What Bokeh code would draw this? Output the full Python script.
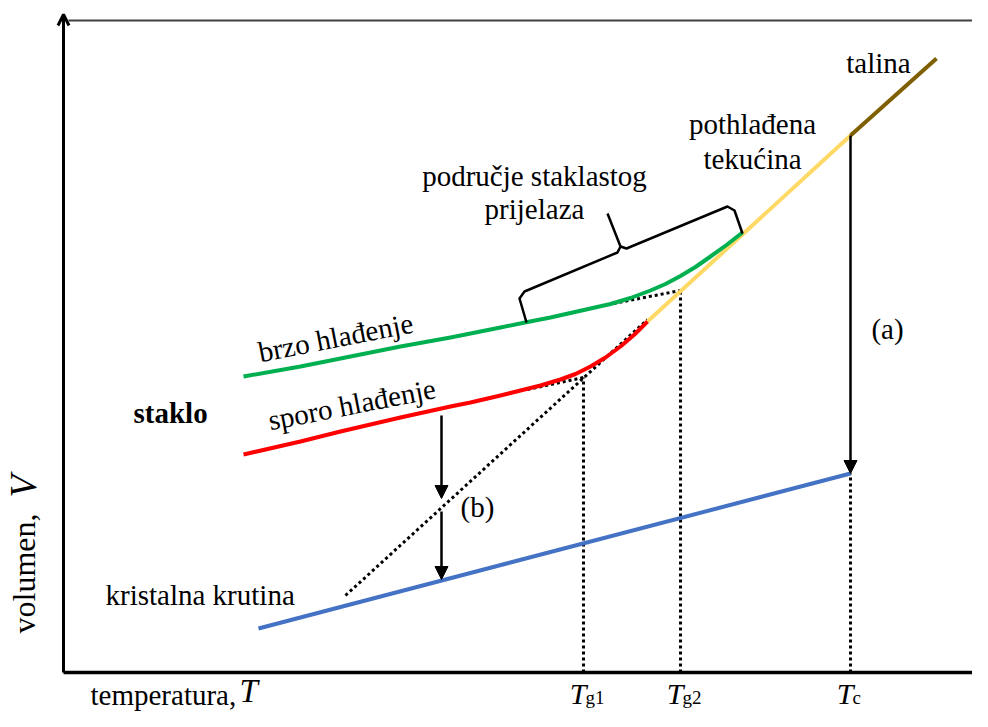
from bokeh.plotting import figure
from bokeh.models import Range1d, Arrow, NormalHead, OpenHead
from bokeh.embed import file_html
from bokeh.resources import INLINE
from bokeh.core.properties import value

# ---- diagram values (temperature T, volume V; origin at the axes corner) ----
fast_T = [180, 237, 287, 337, 387, 437, 464, 487, 507, 527, 547, 567, 587, 602, 617, 632, 647, 663, 679]
fast_V = [296, 306, 316, 326, 335, 345, 350.5, 355, 359.5, 364, 368.5, 374.5, 382, 388.5, 396.5, 405.5, 416, 427.5, 440]
slow_T = [180, 237, 277, 337, 387, 407, 437, 457, 477, 497, 512, 527, 542, 557, 571, 584]
slow_V = [218, 231, 241, 255, 266, 270, 277, 282, 287, 293, 298.5, 306, 315, 326, 338, 351]
supercooled_T = [584, 787]
supercooled_V = [351, 537]
melt_T = [787, 873]
melt_V = [537, 614]
crystal_T = [195, 787]
crystal_V = [44, 199]
extrap_T = [282, 584]
extrap_V = [77, 353]
fast_tan_T = [550, 617]
fast_tan_V = [369, 382]
slow_tan_T = [464, 520]
slow_tan_V = [283, 295]
tick_T = [520, 617, 787]
tick_V = [295, 382, 199]
tick_main = ["T", "T", "T"]
tick_sub = ["g1", "g2", "c"]
brace_left_T = [463, 456, 461, 554, 557, 544]
brace_left_V = [350, 374, 381, 420, 426, 459]
brace_right_T = [557, 563, 664, 671, 679]
brace_right_V = [426, 424, 466, 462, 439]
arrow_a = (787, 537, 787, 199)
arrow_b1 = (378, 257, 378, 174)
arrow_b2 = (378, 161, 378, 93)
axis_x_end = 925
axis_y_end = 658
top_line_V = 652

FONT = value("Liberation Serif")

p = figure(width=972, height=711, x_range=Range1d(-63, 909), y_range=Range1d(-39, 672),
           output_backend="svg", toolbar_location=None, min_border=0,
           x_axis_type=None, y_axis_type=None)
p.grid.visible = False
p.outline_line_color = None
p.background_fill_color = "white"

# frame lines
p.line([5, axis_x_end], [top_line_V, top_line_V], line_color="#404040", line_width=2)
p.line([0, axis_x_end], [0, 0], line_color="black", line_width=3.5)
p.add_layout(Arrow(end=OpenHead(size=11, line_width=3, line_color="black"),
                   x_start=0, y_start=0, x_end=0, y_end=axis_y_end,
                   line_width=3, line_color="black"))

# dotted guide lines
dot = dict(line_color="black", line_width=3, line_dash="3 3")
p.line(extrap_T, extrap_V, **dot)
p.line(fast_tan_T, fast_tan_V, **dot)
p.line(slow_tan_T, slow_tan_V, **dot)
for t, v in zip(tick_T, tick_V):
    p.line([t, t], [0, v], **dot)

# curves
p.line(crystal_T, crystal_V, line_color="#4472C4", line_width=4)
p.line(supercooled_T, supercooled_V, line_color="#FFD966", line_width=4)
p.line(melt_T, melt_V, line_color="#7F6000", line_width=4)
p.line(fast_T, fast_V, line_color="#00B050", line_width=4, line_join="round")
p.line(slow_T, slow_V, line_color="#FF0000", line_width=4, line_join="round")

# brace
p.line(brace_left_T, brace_left_V, line_color="black", line_width=2.5, line_join="round")
p.line(brace_right_T, brace_right_V, line_color="black", line_width=2.5, line_join="round")

# arrows
for a in (arrow_a, arrow_b1, arrow_b2):
    p.add_layout(Arrow(end=NormalHead(size=13, fill_color="black", line_color="black"),
                       x_start=a[0], y_start=a[1], x_end=a[2], y_end=a[3],
                       line_width=2.5, line_color="black"))

# texts
txt = dict(text_font=FONT, text_font_size="29px", text_color="black", text_baseline="alphabetic")
p.text(x=[815], y=[610], text=["talina"], text_align="center", **txt)
p.text(x=[689, 689], y=[549, 514], text=["pothlađena", "tekućina"], text_align="center", **txt)
p.text(x=[471, 471], y=[497, 464], text=["područje staklastog", "prijelaza"], text_align="center", **txt)
p.text(x=[195], y=[320], text=["brzo hlađenje"], text_align="left", angle=11, angle_units="deg", **txt)
p.text(x=[205], y=[252], text=["sporo hlađenje"], text_align="left", angle=11, angle_units="deg", **txt)
p.text(x=[70], y=[260], text=["staklo"], text_align="left", text_font_style="bold", **txt)
p.text(x=[42], y=[78], text=["kristalna krutina"], text_align="left", **txt)
p.text(x=[824], y=[344], text=["(a)"], text_align="center", **txt)
p.text(x=[414], y=[166], text=["(b)"], text_align="center", **txt)

# axis titles
p.text(x=[27], y=[-22], text=["temperatura,"], text_align="left", **txt)
p.text(x=[176], y=[-18], text=["T"], text_align="left", text_font=FONT, text_font_size="33px",
       text_font_style="italic", text_baseline="alphabetic")
p.text(x=[-40], y=[39], text=["volumen,"], text_align="left", angle=90, angle_units="deg",
       text_font=FONT, text_font_size="32px", text_baseline="alphabetic")
p.text(x=[-40], y=[175], text=["V"], text_align="left", angle=90, angle_units="deg", text_font=FONT,
       text_font_size="37px", text_font_style="italic", text_baseline="alphabetic")

# tick labels
p.text(x=[t + 3 for t in tick_T], y=[-21] * 3, text=tick_main, text_align="right", text_font=FONT,
       text_font_size="30px", text_font_style="italic", text_baseline="alphabetic")
p.text(x=[t + 2 for t in tick_T], y=[-25] * 3, text=tick_sub, text_align="left", text_font=FONT,
       text_font_size="19px", text_baseline="alphabetic")

open("out.html", "w").write(file_html(p, INLINE))
